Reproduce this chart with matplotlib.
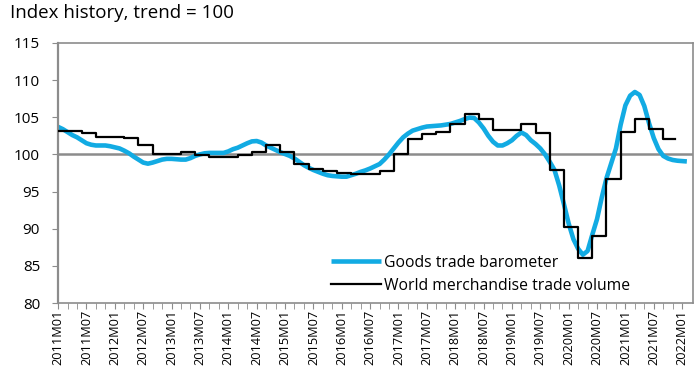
import numpy as np
import matplotlib
matplotlib.use("Agg")
import matplotlib.pyplot as plt

plt.rcParams['font.family'] = ['Open Sans', 'DejaVu Sans']

# Goods trade barometer, monthly from 2011M01 to 2022M02
barometer = [
    103.7, 103.4, 103.0, 102.6, 102.3, 101.9, 101.5, 101.3, 101.2, 101.2, 101.2, 101.1,   # 2011
    100.95, 100.8, 100.5, 100.15, 99.7, 99.3, 98.9, 98.75, 98.9, 99.1, 99.3, 99.4,        # 2012
    99.4, 99.35, 99.3, 99.3, 99.5, 99.8, 100.0, 100.15, 100.2, 100.2, 100.2, 100.2,       # 2013
    100.4, 100.7, 100.9, 101.2, 101.5, 101.75, 101.8, 101.6, 101.2, 100.9, 100.6, 100.3,  # 2014
    100.05, 99.8, 99.45, 99.0, 98.55, 98.2, 97.9, 97.65, 97.4, 97.2, 97.1, 97.05,         # 2015
    97.0, 97.0, 97.2, 97.4, 97.65, 97.85, 98.1, 98.4, 98.7, 99.3, 100.0, 100.8,           # 2016
    101.6, 102.3, 102.8, 103.2, 103.4, 103.6, 103.75, 103.8, 103.85, 103.9, 104.0, 104.1, # 2017
    104.3, 104.5, 104.75, 104.95, 104.9, 104.3, 103.5, 102.5, 101.7, 101.2, 101.2, 101.5, # 2018
    101.9, 102.5, 102.95, 102.6, 101.9, 101.4, 100.8, 100.0, 99.0, 97.9, 95.8, 93.3,      # 2019
    90.7, 88.6, 87.3, 86.5, 87.0, 89.2, 91.3, 94.2, 96.8, 98.8, 100.8, 104.0,             # 2020
    106.6, 107.9, 108.4, 108.0, 106.5, 104.2, 102.2, 100.7, 99.8, 99.45, 99.25, 99.15,    # 2021
    99.1, 99.05,                                                                          # 2022
]

# World merchandise trade volume, quarterly 2011Q1 - 2021Q4
volume = [
    103.2, 103.2, 102.9, 102.4,   # 2011
    102.3, 102.2, 101.2, 100.0,   # 2012
    100.0, 100.3, 99.9, 99.7,     # 2013
    99.7, 99.9, 100.3, 101.2,     # 2014
    100.3, 98.7, 98.1, 97.7,      # 2015
    97.5, 97.4, 97.3, 97.7,       # 2016
    100.1, 102.1, 102.8, 103.0,   # 2017
    104.1, 105.4, 104.7, 103.3,   # 2018
    103.3, 104.1, 102.9, 97.9,    # 2019
    90.2, 86.0, 89.0, 96.7,       # 2020
    103.0, 104.7, 103.4, 102.1,   # 2021
]

tick_labels = ['2011M01', '2011M07', '2012M01', '2012M07', '2013M01', '2013M07',
               '2014M01', '2014M07', '2015M01', '2015M07', '2016M01', '2016M07',
               '2017M01', '2017M07', '2018M01', '2018M07', '2019M01', '2019M07',
               '2020M01', '2020M07', '2021M01', '2021M07', '2022M01']

months = np.arange(len(barometer))
# quarterly levels change one month before each quarter starts
q_start = np.maximum(np.arange(len(volume)) * 3 - 1, 0)
q_x = np.append(q_start, 130.4)
q_y = np.append(volume, volume[-1])

fig = plt.figure(figsize=(7, 3.7), dpi=100)
ax = fig.add_axes([0.083, 0.181, 0.907, 0.703])

ax.axhline(100, color='#8c8c8c', lw=1.8, zorder=1)
ax.plot(months, barometer, color='#12ABE3', lw=3.3, solid_capstyle='butt',
        label='Goods trade barometer', zorder=2)
ax.plot(q_x, q_y, color='black', lw=1.6, drawstyle='steps-post',
        label='World merchandise trade volume', zorder=3)

ax.set_xlim(0, 134.3)
ax.set_ylim(80, 115)
ax.set_yticks(np.arange(80, 116, 5))
ax.set_xticks(np.arange(len(tick_labels)) * 6)
ax.set_xticklabels(tick_labels, rotation=90, fontsize=9.2)
ax.set_xticks(np.arange(0, 134, 2), minor=True)
ax.tick_params(axis='y', labelsize=11, length=4, color='#8c8c8c', pad=9)
ax.tick_params(axis='x', which='both', length=4, color='#8c8c8c', pad=1)

for s in ax.spines.values():
    s.set_color('#8c8c8c')
    s.set_linewidth(1.2)
ax.spines['left'].set_linewidth(1.6)

ax.legend(loc='upper left', bbox_to_anchor=(0.42, 0.21), frameon=False,
          fontsize=11.3, handlelength=3.2, handletextpad=0.15, labelspacing=0.45,
          borderaxespad=0)

fig.text(0.014, 0.965, 'Index history, trend = 100', fontsize=13.5, va='center', ha='left')

fig.savefig('out.png', dpi=100)
